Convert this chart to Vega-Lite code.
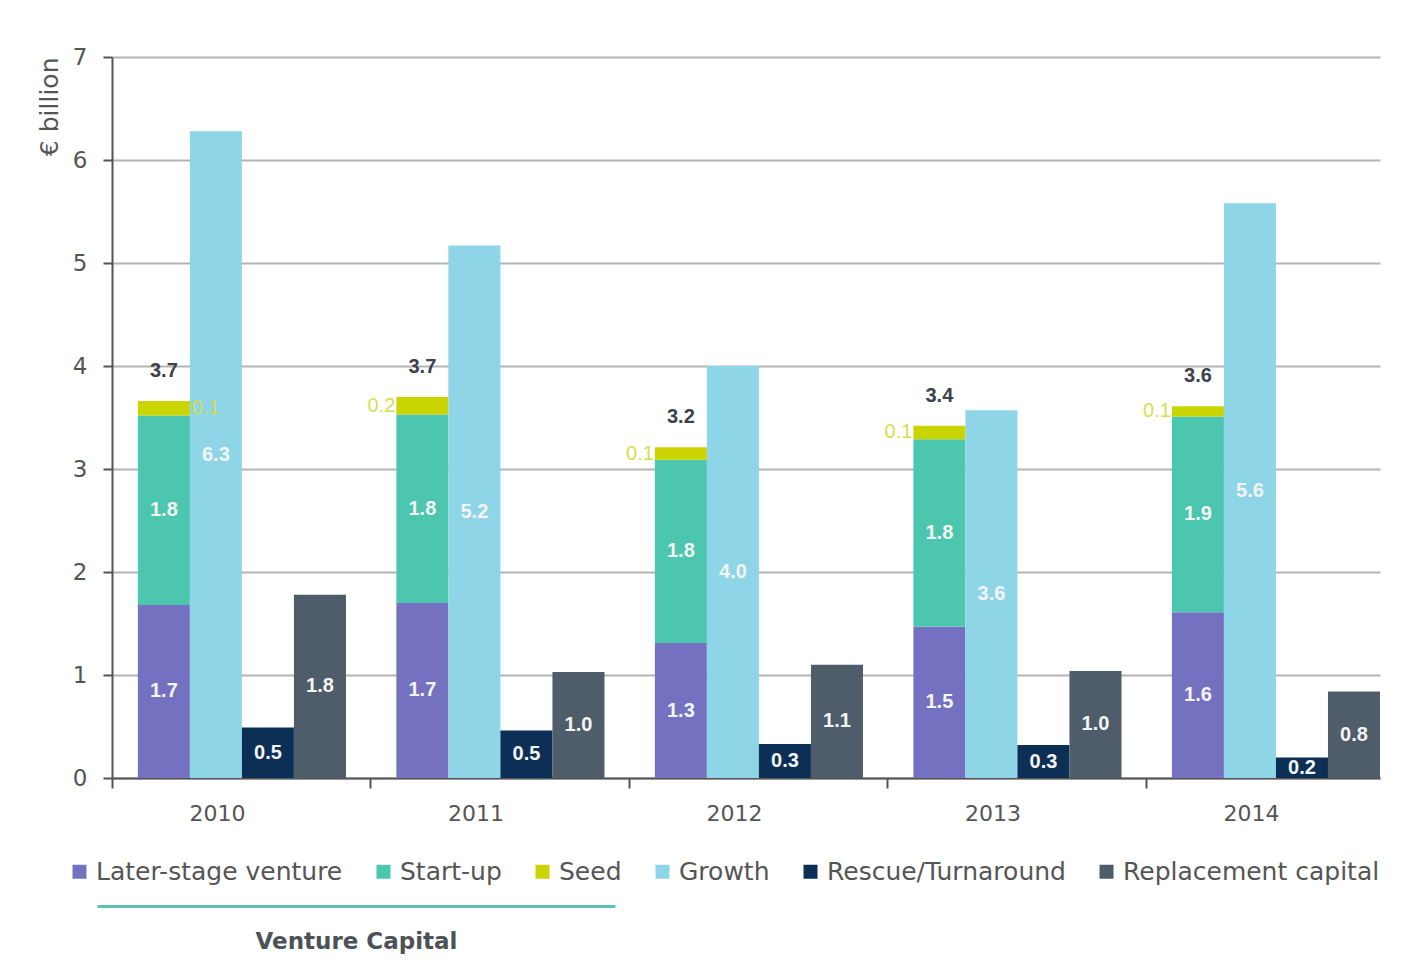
{
  "$schema": "https://vega.github.io/schema/vega-lite/v6.json",
  "autosize": "none",
  "padding": {"left": 112, "top": 57, "right": 23, "bottom": 182},
  "width": 1268,
  "height": 721,
  "background": "white",
  "config": {"view": {"stroke": null}, "font": "DejaVu Sans"},
  "data": {
    "values": [
      {"year": "2010", "group": "Venture Capital", "category": "Later-stage venture", "value": 1.68},
      {"year": "2010", "group": "Venture Capital", "category": "Start-up", "value": 1.84},
      {"year": "2010", "group": "Venture Capital", "category": "Seed", "value": 0.14},
      {"year": "2010", "group": "Growth", "category": "Growth", "value": 6.28},
      {"year": "2010", "group": "Rescue/Turnaround", "category": "Rescue/Turnaround", "value": 0.49},
      {"year": "2010", "group": "Replacement capital", "category": "Replacement capital", "value": 1.78},
      {"year": "2011", "group": "Venture Capital", "category": "Later-stage venture", "value": 1.70},
      {"year": "2011", "group": "Venture Capital", "category": "Start-up", "value": 1.83},
      {"year": "2011", "group": "Venture Capital", "category": "Seed", "value": 0.17},
      {"year": "2011", "group": "Growth", "category": "Growth", "value": 5.17},
      {"year": "2011", "group": "Rescue/Turnaround", "category": "Rescue/Turnaround", "value": 0.46},
      {"year": "2011", "group": "Replacement capital", "category": "Replacement capital", "value": 1.03},
      {"year": "2012", "group": "Venture Capital", "category": "Later-stage venture", "value": 1.31},
      {"year": "2012", "group": "Venture Capital", "category": "Start-up", "value": 1.78},
      {"year": "2012", "group": "Venture Capital", "category": "Seed", "value": 0.12},
      {"year": "2012", "group": "Growth", "category": "Growth", "value": 4.00},
      {"year": "2012", "group": "Rescue/Turnaround", "category": "Rescue/Turnaround", "value": 0.33},
      {"year": "2012", "group": "Replacement capital", "category": "Replacement capital", "value": 1.10},
      {"year": "2013", "group": "Venture Capital", "category": "Later-stage venture", "value": 1.47},
      {"year": "2013", "group": "Venture Capital", "category": "Start-up", "value": 1.82},
      {"year": "2013", "group": "Venture Capital", "category": "Seed", "value": 0.13},
      {"year": "2013", "group": "Growth", "category": "Growth", "value": 3.57},
      {"year": "2013", "group": "Rescue/Turnaround", "category": "Rescue/Turnaround", "value": 0.32},
      {"year": "2013", "group": "Replacement capital", "category": "Replacement capital", "value": 1.04},
      {"year": "2014", "group": "Venture Capital", "category": "Later-stage venture", "value": 1.61},
      {"year": "2014", "group": "Venture Capital", "category": "Start-up", "value": 1.90},
      {"year": "2014", "group": "Venture Capital", "category": "Seed", "value": 0.10},
      {"year": "2014", "group": "Growth", "category": "Growth", "value": 5.58},
      {"year": "2014", "group": "Rescue/Turnaround", "category": "Rescue/Turnaround", "value": 0.20},
      {"year": "2014", "group": "Replacement capital", "category": "Replacement capital", "value": 0.84}
    ]
  },
  "transform": [
    {"calculate": "indexof(['Later-stage venture','Start-up','Seed','Growth','Rescue/Turnaround','Replacement capital'], datum.category)", "as": "k"},
    {"stack": "value", "groupby": ["year", "group"], "sort": [{"field": "k", "order": "ascending"}], "as": ["v0", "v1"]},
    {"calculate": "(datum.v0 + datum.v1) / 2", "as": "mid"}
  ],
  "layer": [
    {
      "layer": [
        {
          "mark": {"type": "bar"},
          "encoding": {
            "x": {
              "field": "year", "type": "nominal",
              "scale": {"paddingInner": 0.195, "paddingOuter": 0.05, "align": 1},
              "axis": {"title": null, "labelAngle": 0, "domainColor": "#555555", "domainWidth": 2, "tickColor": "#555555", "tickWidth": 2, "tickSize": 10, "tickOffset": -130, "labelFontSize": 22, "labelColor": "#555555", "labelPadding": 15, "labelOffset": 105, "grid": false}
            },
            "xOffset": {
              "field": "group", "type": "nominal",
              "scale": {"domain": ["Venture Capital", "Growth", "Rescue/Turnaround", "Replacement capital"], "paddingInner": 0, "paddingOuter": 0}
            },
            "y": {
              "field": "v1", "type": "quantitative",
              "scale": {"domain": [0, 7], "nice": false},
              "axis": {"title": "€ billion", "values": [0, 1, 2, 3, 4, 5, 6, 7], "format": "d", "grid": true, "gridColor": "#b4b4b4", "gridWidth": 2, "domainColor": "#555555", "domainWidth": 2, "tickColor": "#555555", "tickWidth": 2, "tickSize": 9, "labelFontSize": 23, "labelColor": "#555555", "labelPadding": 16, "titleFontSize": 25, "titleFontWeight": "normal", "titleColor": "#555555", "titleAnchor": "end", "titlePadding": 10}
            },
            "y2": {"field": "v0"},
            "color": {
              "field": "category", "type": "nominal",
              "scale": {
                "domain": ["Later-stage venture", "Start-up", "Seed", "Growth", "Rescue/Turnaround", "Replacement capital"],
                "range": ["#7472c0", "#4cc6af", "#c9d400", "#8ed5e7", "#0b2f55", "#4e5d69"]
              },
              "legend": {
                "title": null, "orient": "none", "legendX": -45, "legendY": 802, "direction": "horizontal",
                "symbolType": "square", "symbolSize": 196, "symbolStrokeWidth": 0, "symbolOpacity": 1,
                "labelFontSize": 25, "labelColor": "#555555", "labelOffset": 4, "columnPadding": 28, "labelLimit": 400
              }
            }
          }
        },
        {
          "transform": [{"filter": "datum.category != 'Seed'"}],
          "mark": {"type": "text", "font": "Liberation Sans", "fontWeight": "bold", "fontSize": 20, "color": "#f4f4f4", "baseline": "middle"},
          "encoding": {
            "x": {"field": "year", "type": "nominal"},
            "xOffset": {"field": "group", "type": "nominal"},
            "y": {"field": "mid", "type": "quantitative"},
            "text": {"field": "value", "type": "quantitative", "format": ".1f"}
          }
        },
        {
          "transform": [{"filter": "datum.category == 'Seed' && datum.year == '2010'"}],
          "mark": {"type": "text", "font": "Liberation Sans", "fontSize": 20, "color": "#d3df4e", "baseline": "middle", "align": "left", "dx": 28},
          "encoding": {
            "x": {"field": "year", "type": "nominal"},
            "xOffset": {"field": "group", "type": "nominal"},
            "y": {"field": "mid", "type": "quantitative"},
            "text": {"field": "value", "type": "quantitative", "format": ".1f"}
          }
        },
        {
          "transform": [{"filter": "datum.category == 'Seed' && datum.year != '2010'"}],
          "mark": {"type": "text", "font": "Liberation Sans", "fontSize": 20, "color": "#d3df4e", "baseline": "middle", "align": "right", "dx": -27},
          "encoding": {
            "x": {"field": "year", "type": "nominal"},
            "xOffset": {"field": "group", "type": "nominal"},
            "y": {"field": "mid", "type": "quantitative"},
            "text": {"field": "value", "type": "quantitative", "format": ".1f"}
          }
        },
        {
          "transform": [
            {"filter": "datum.group == 'Venture Capital'"},
            {"aggregate": [{"op": "sum", "field": "value", "as": "total"}], "groupby": ["year", "group"]}
          ],
          "mark": {"type": "text", "font": "Liberation Sans", "fontWeight": "bold", "fontSize": 20, "color": "#3c414b", "baseline": "middle", "dy": -30},
          "encoding": {
            "x": {"field": "year", "type": "nominal"},
            "xOffset": {"field": "group", "type": "nominal"},
            "y": {"field": "total", "type": "quantitative"},
            "text": {"field": "total", "type": "quantitative", "format": ".1f"}
          }
        }
      ]
    },
    {
      "mark": {"type": "rule", "strokeOpacity": 0},
      "encoding": {
        "x": {
          "datum": 0.5, "type": "quantitative",
          "scale": {"domain": [0, 1], "range": [-15, 503]},
          "axis": {"orient": "bottom", "offset": 128, "domainColor": "#5fc0b5", "domainWidth": 3, "ticks": false, "labels": false, "grid": false, "title": "Venture Capital", "titleFontSize": 23, "titleFontWeight": "bold", "titleColor": "#4d5257", "titlePadding": 24}
        }
      }
    }
  ],
  "resolve": {"scale": {"x": "independent"}, "axis": {"x": "independent"}}
}
